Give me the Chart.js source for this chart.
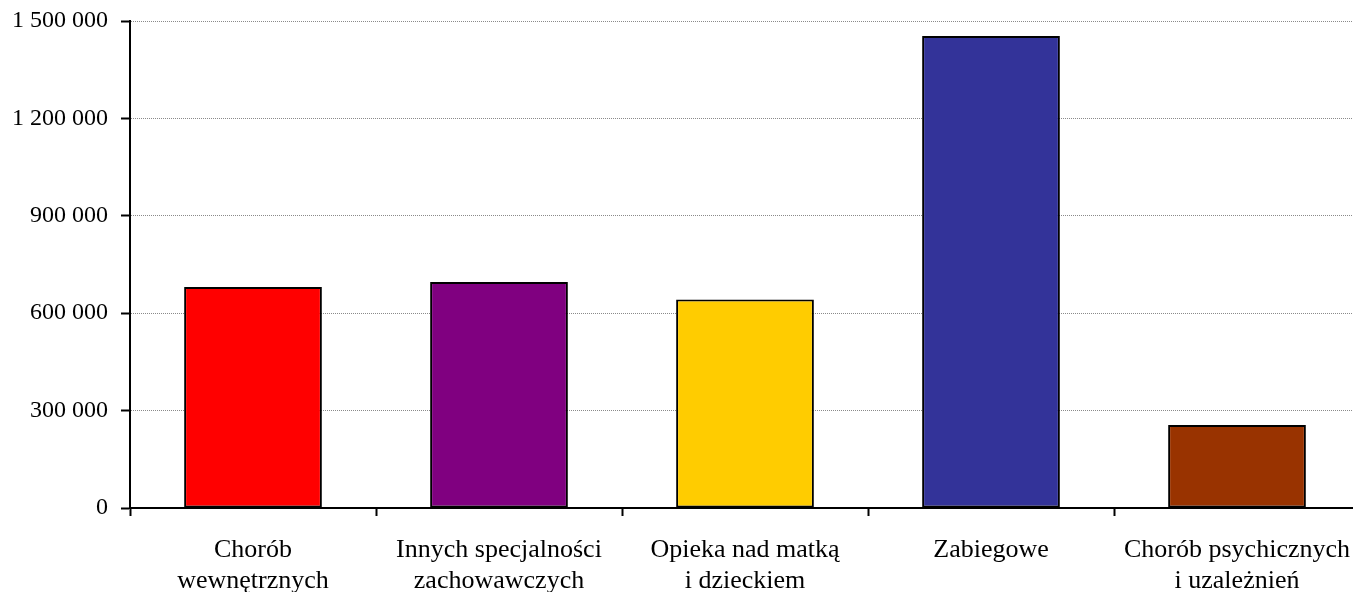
<!DOCTYPE html>
<html>
<head>
<meta charset="utf-8">
<script src="https://cdn.jsdelivr.net/npm/chart.js@4/dist/chart.umd.min.js"></script>
<style>
  html, body { margin: 0; padding: 0; background: #fff; overflow: hidden; }
  #wrap { width: 1362px; height: 592px; }
</style>
</head>
<body>
<div id="wrap"><canvas id="oddzialy"></canvas></div>
<script>
// Hospital wards — number of patients per ward group
const categories = [
    ['Chorób', 'wewnętrznych'],
    ['Innych specjalności', 'zachowawczych'],
    ['Opieka nad matką', 'i dzieckiem'],
    ['Zabiegowe'],
    ['Chorób psychicznych', 'i uzależnień']
];
const patients = [681000, 696000, 642000, 1454000, 256000];
const barColors = ['#FF0000', '#800080', '#FFCC00', '#333399', '#993300'];
const yTicks = [0, 300000, 600000, 900000, 1200000, 1500000];

function formatThousands(v) {
    return String(v).replace(/\B(?=(\d{3})+(?!\d))/g, ' ');
}

const serif = '"Liberation Serif", "Times New Roman", serif';

const ctx = document.getElementById('oddzialy').getContext('2d');
new Chart(ctx, {
    type: 'bar',
    data: {
        labels: categories,
        datasets: [{
            data: patients,
            backgroundColor: barColors,
            borderColor: '#000',
            borderWidth: 2,
            borderSkipped: false,
            categoryPercentage: 1,
            barPercentage: 0.56
        }]
    },
    options: {
        responsive: true,
        maintainAspectRatio: false,
        animation: false,
        layout: {
            padding: { top: 21, right: 2, bottom: 0, left: 0 }
        },
        plugins: {
            legend: { display: false },
            tooltip: { enabled: false }
        },
        scales: {
            x: {
                grid: {
                    offset: true,
                    drawOnChartArea: false,
                    tickLength: 8,
                    tickWidth: 2,
                    tickColor: '#000'
                },
                border: { color: '#000', width: 2 },
                ticks: {
                    color: '#000',
                    padding: 19,
                    maxRotation: 0,
                    autoSkip: false,
                    font: { family: serif, size: 26, lineHeight: 1.19 }
                },
                afterFit(scale) {
                    scale.height = 84;
                    scale.paddingLeft = 0;
                    scale.paddingRight = 0;
                }
            },
            y: {
                min: 0,
                max: 1500000,
                afterBuildTicks(scale) {
                    scale.ticks = yTicks.map(v => ({ value: v }));
                },
                grid: {
                    color: '#8a8a8a',
                    lineWidth: 1,
                    tickLength: 9,
                    tickWidth: 2,
                    tickColor: '#000',
                    tickBorderDash: []
                },
                border: { color: '#000', width: 2, dash: [1, 1] },
                ticks: {
                    color: '#000',
                    padding: 13,
                    font: { family: serif, size: 24 },
                    callback: v => formatThousands(v)
                },
                afterFit(scale) {
                    scale.width = 130;
                    scale.paddingTop = 0;
                    scale.paddingBottom = 0;
                }
            }
        }
    }
});
</script>
</body>
</html>
